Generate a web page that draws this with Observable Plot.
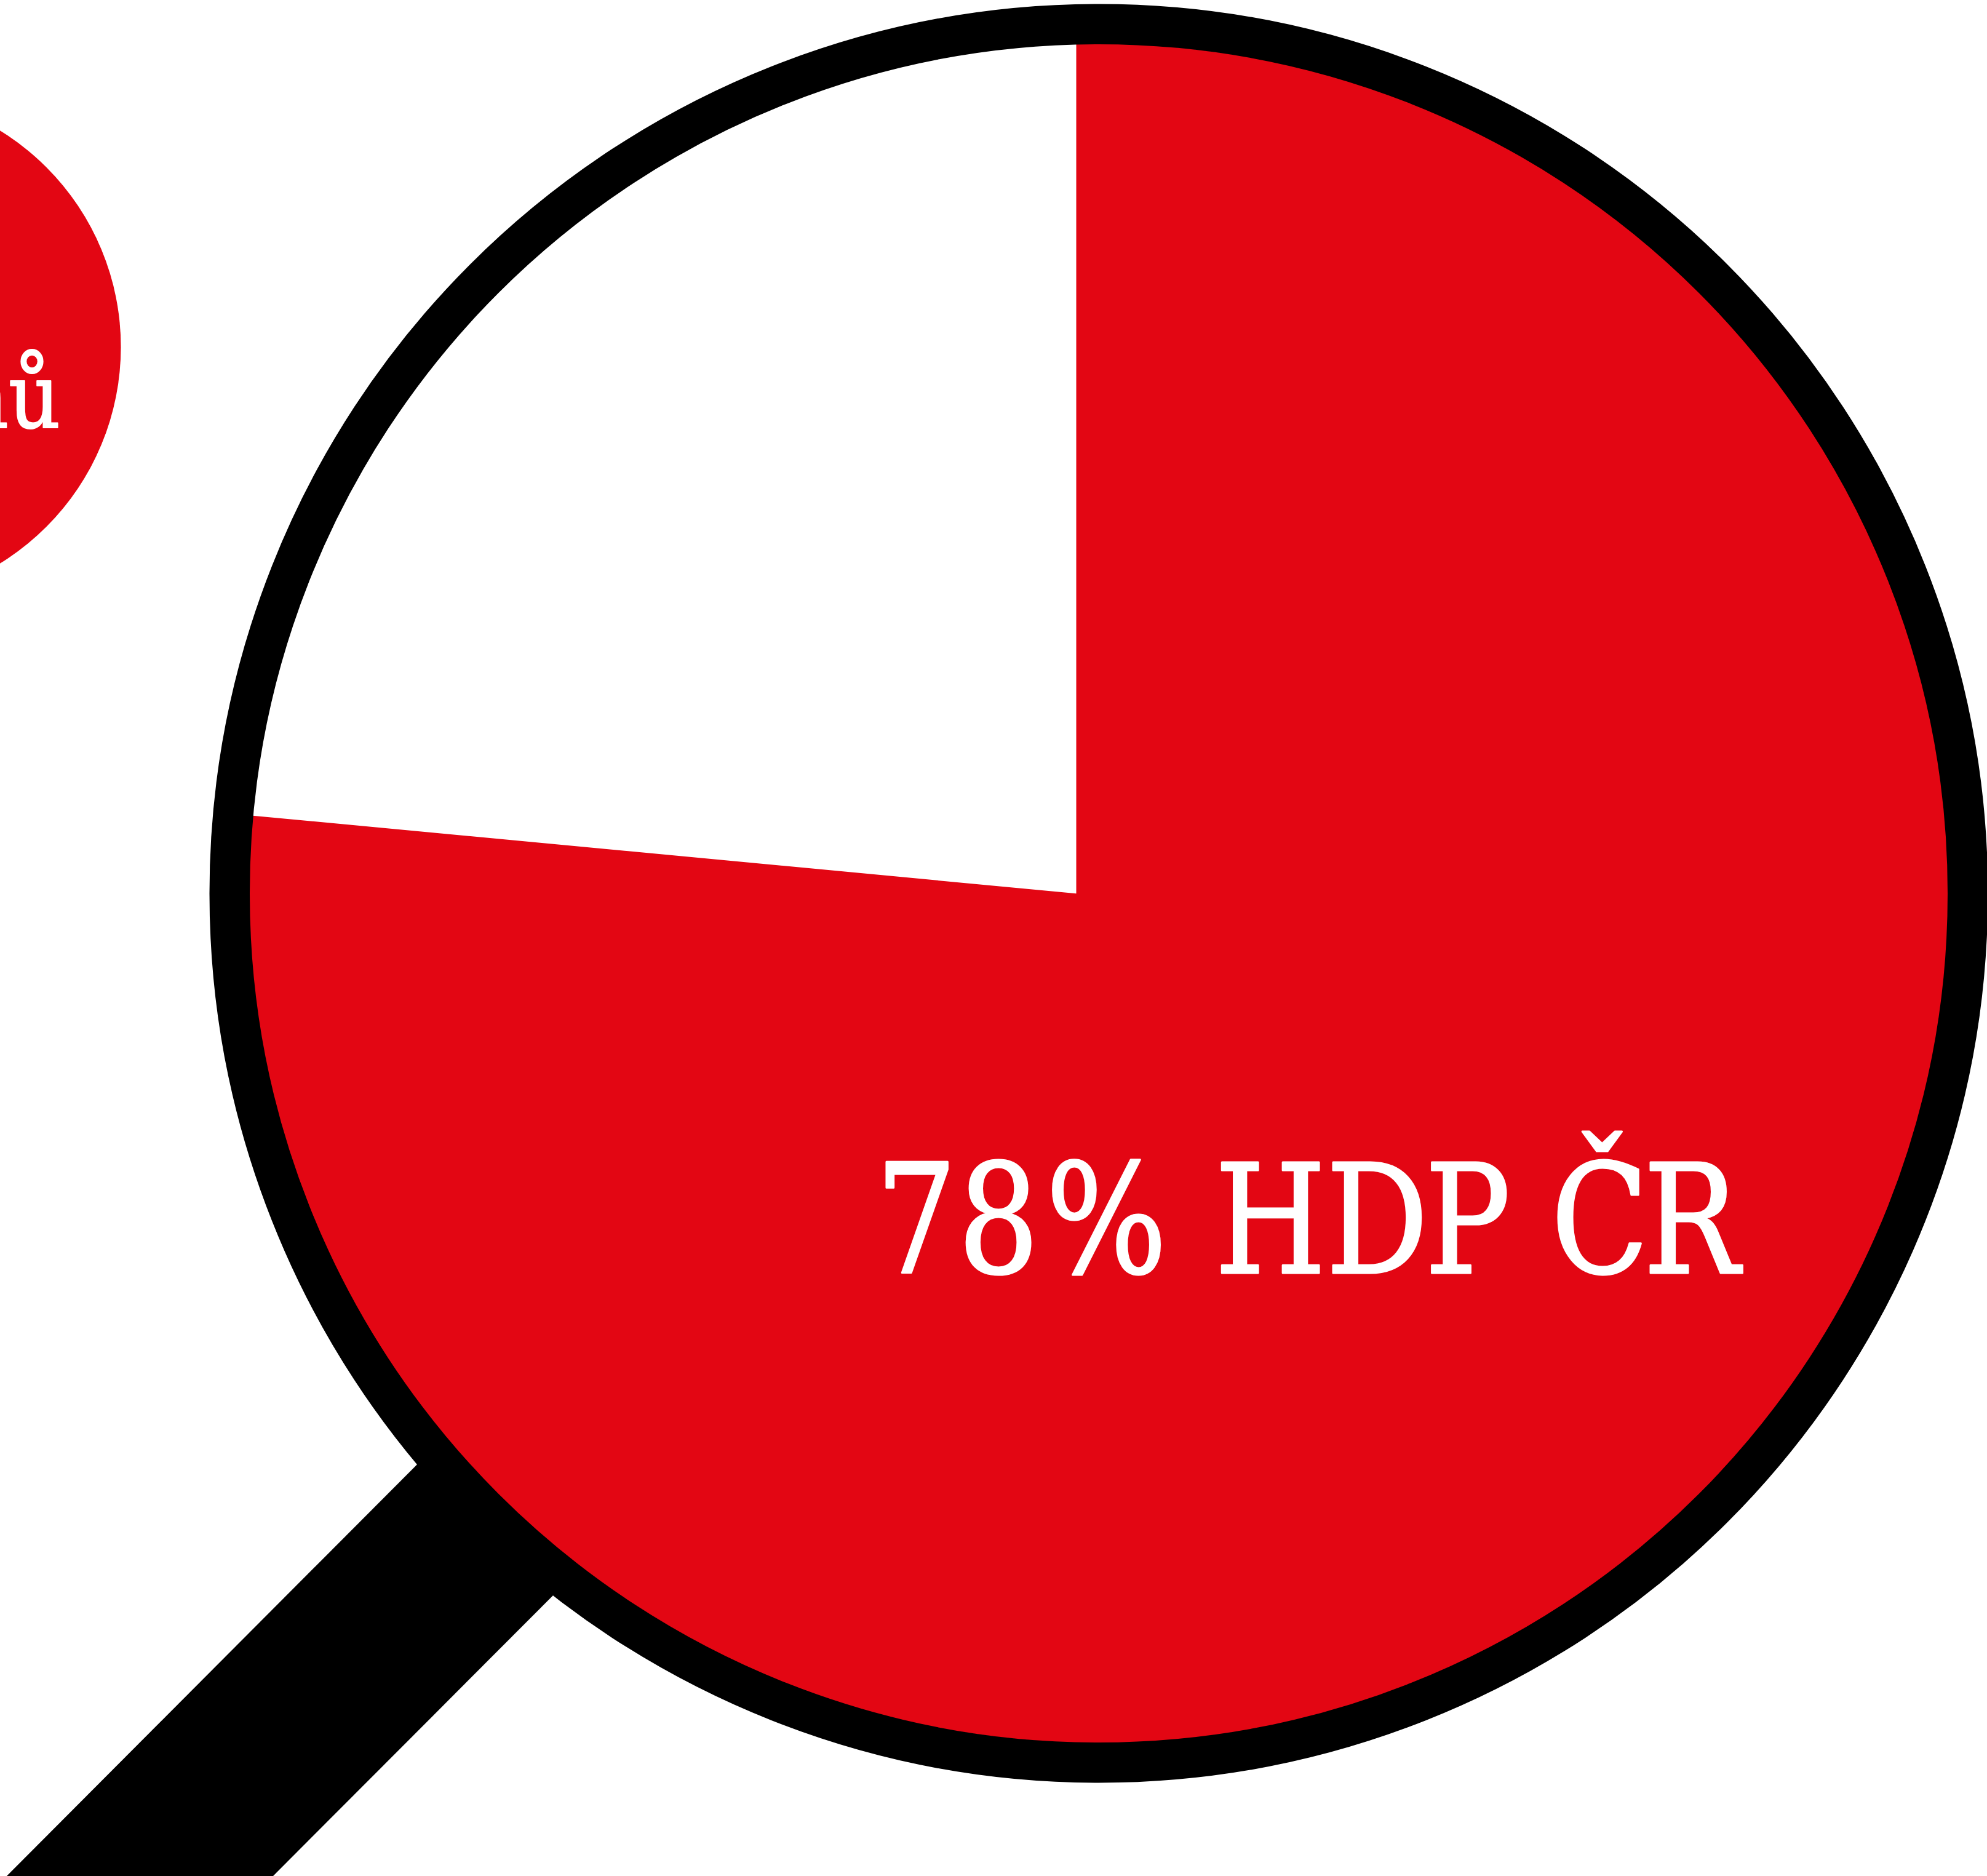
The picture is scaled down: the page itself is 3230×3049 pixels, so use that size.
<!DOCTYPE html>
<html lang="cs">
<head>
<meta charset="utf-8">
<title>78% HDP ČR</title>
<script src="https://cdn.jsdelivr.net/npm/d3@7"></script>
<script src="https://cdn.jsdelivr.net/npm/@observablehq/plot@0.6"></script>
<style>
html,body{margin:0;padding:0;background:#fff;overflow:hidden}
</style>
</head>
<body>
<div id="chart"></div>
<script>
// Values
const labels = ["78% HDP ČR", "nů"];
const labelPositions = [[1423, 2068], [98, 694]];
const labelKerning = [0, 2, 12, 0, 13, 0, -6, 0, 0, -9];
const whiteSliceShare = [23.5];            // visible share of the white slice, in %
const lens = {x: 1785.5, y: 1451.5, innerR: 1380, outerR: 1445.5};
const sliceApex = {x: 1749, y: 1451.7};
const sideDisc = {x: -217, y: 563.5, r: 413};
const handleX = [10, 443, 950, 730];
const handleY = [3049, 3049, 2541, 2327];
const RED = "#e30613";

const handle = handleX.map((x, i) => ({x, y: handleY[i]}));

// End of a ray from the apex on the middle of the lens ring (hidden under the ring)
const ringR = (lens.innerR + lens.outerR) / 2;
function onRing(deg) {
  const a = deg * Math.PI / 180, dx = Math.sin(a), dy = -Math.cos(a);
  const ox = sliceApex.x - lens.x, oy = sliceApex.y - lens.y;
  const b = ox * dx + oy * dy, c = ox * ox + oy * oy - ringR * ringR;
  const t = -b + Math.sqrt(b * b - c);
  return {x: sliceApex.x + t * dx, y: sliceApex.y + t * dy};
}
const sweep = whiteSliceShare[0] * 3.6;
const slice = [sliceApex, ...d3.range(0, 61).map(i => onRing(-sweep * i / 60))];

const chart = Plot.plot({
  width: 3230,
  height: 3049,
  margin: 0,
  x: {domain: [0, 3230], range: [0, 3230], axis: null},
  y: {domain: [0, 3049], range: [0, 3049], axis: null},
  marks: [
    Plot.dot([sideDisc], {x: "x", y: "y", r: sideDisc.r, fill: RED, stroke: "none"}),
    Plot.text([labels[1]], {
      x: labelPositions[1][0], y: labelPositions[1][1], text: d => d,
      textAnchor: "end", lineAnchor: "bottom", fill: "white",
      stroke: "white", strokeWidth: 2,
      fontFamily: "DejaVu Serif Condensed", fontSize: 146
    }),
    Plot.line(handle, {x: "x", y: "y", fill: "black", stroke: "none"}),
    Plot.dot([lens], {x: "x", y: "y", r: lens.innerR + 1, fill: RED, stroke: "none"}),
    Plot.line(slice, {x: "x", y: "y", fill: "white", stroke: "none"}),
    Plot.dot([lens], {x: "x", y: "y", r: ringR, fill: "none", stroke: "black", strokeWidth: lens.outerR - lens.innerR}),
    Plot.text([labels[0]], {
      x: labelPositions[0][0], y: labelPositions[0][1], text: d => d,
      textAnchor: "start", lineAnchor: "bottom", fill: "white",
      stroke: "white", strokeWidth: 3,
      fontFamily: "DejaVu Serif Condensed", fontSize: 248
    })
  ]
});
d3.select(chart).selectAll("text")
  .filter(function () { return this.textContent === labels[0]; })
  .attr("textLength", 1404)
  .attr("lengthAdjust", "spacingAndGlyphs")
  .attr("dx", labelKerning.join(" "));
document.getElementById("chart").append(chart);
</script>
</body>
</html>
